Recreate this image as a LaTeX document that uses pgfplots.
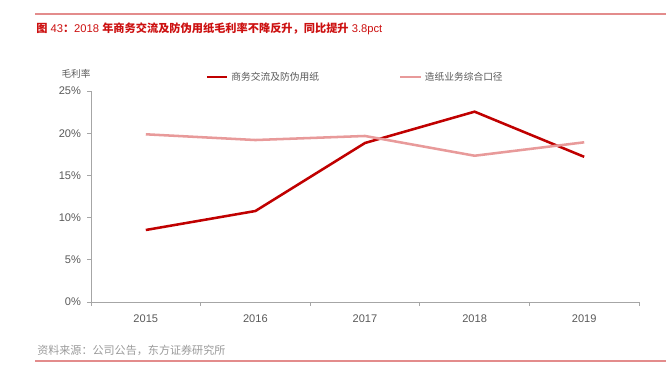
\documentclass[border=0pt]{standalone}
\usepackage{pgfplots}
\pgfplotsset{compat=1.18}
\usepackage{fontspec}
\setmainfont{Liberation Sans}
\newfontfamily\cjk{Noto Sans CJK SC}
\definecolor{dred}{HTML}{C00000}
\definecolor{pinkl}{HTML}{E89A9A}
\definecolor{rulec}{HTML}{E38C8C}
\definecolor{titlered}{HTML}{CC1010}
\definecolor{tickgray}{HTML}{595959}
\definecolor{axgray}{HTML}{A6A6A6}
\definecolor{srcgray}{HTML}{9A9A9A}
\begin{document}
\begin{tikzpicture}[x=0.75pt,y=0.75pt]
\path[use as bounding box] (0,0) rectangle (666,377);
\draw[rulec, line width=1.5pt] (35,363) -- (666,363);
\draw[rulec, line width=1.1pt] (35,16) -- (666,16);
\node[anchor=west, inner sep=0pt, text=titlered, font=\fontsize{8.4}{10}\selectfont] at (36,348)
  {{\cjk\bfseries 图} 43{\cjk\bfseries ：}2018 {\cjk\bfseries 年商务交流及防伪用纸毛利率不降反升，同比提升} 3.8pct};
\node[anchor=west, inner sep=0pt, text=srcgray, font=\cjk\fontsize{8.3}{10}\selectfont] at (37,27)
  {资料来源：公司公告，东方证券研究所};
\node[inner sep=0pt, text=tickgray, font=\cjk\fontsize{7.2}{9}\selectfont] at (76,303) {毛利率};
\begin{axis}[at={(68.25pt,56.25pt)}, anchor=south west, scale only axis,
  width=411pt, height=158.25pt,
  xmin=-0.5, xmax=4.5, ymin=0, ymax=25,
  axis x line*=bottom, axis y line*=left,
  axis line style={axgray, line width=0.6pt, -},
  xtick={0,1,2,3,4}, xticklabels={2015,2016,2017,2018,2019},
  minor xtick={-0.5,0.5,1.5,2.5,3.5,4.5},
  major x tick style={draw=none},
  minor tick length=3pt, major tick length=3pt,
  tick align=outside,
  tick style={axgray, line width=0.6pt},
  ytick={0,5,10,15,20,25},
  yticklabel={\pgfmathprintnumber{\tick}\%},
  /pgf/number format/assume math mode=true,
  ticklabel style={font=\fontsize{8.3}{10}\selectfont, text=tickgray},
  xticklabel style={yshift=-3pt},
  yticklabel style={xshift=-1pt},
  legend columns=2,
  legend style={at={(0.2085,1.066)}, anchor=west, draw=none, fill=none,
    font=\cjk\fontsize{7.3}{9}\selectfont, text=tickgray, inner sep=0pt,
    /tikz/every even column/.append style={column sep=58pt}},
  legend image code/.code={\draw[#1] (0pt,0pt) -- (15.5pt,0pt);},
  clip=false,
]
\addplot[dred, line width=1.9pt] coordinates {(0,8.53) (1,10.78) (2,18.84) (3,22.55) (4,17.2)};
\addlegendentry{商务交流及防伪用纸}
\addplot[pinkl, line width=1.9pt] coordinates {(0,19.87) (1,19.19) (2,19.67) (3,17.33) (4,18.92)};
\addlegendentry{造纸业务综合口径}
\end{axis}
\end{tikzpicture}
\end{document}
